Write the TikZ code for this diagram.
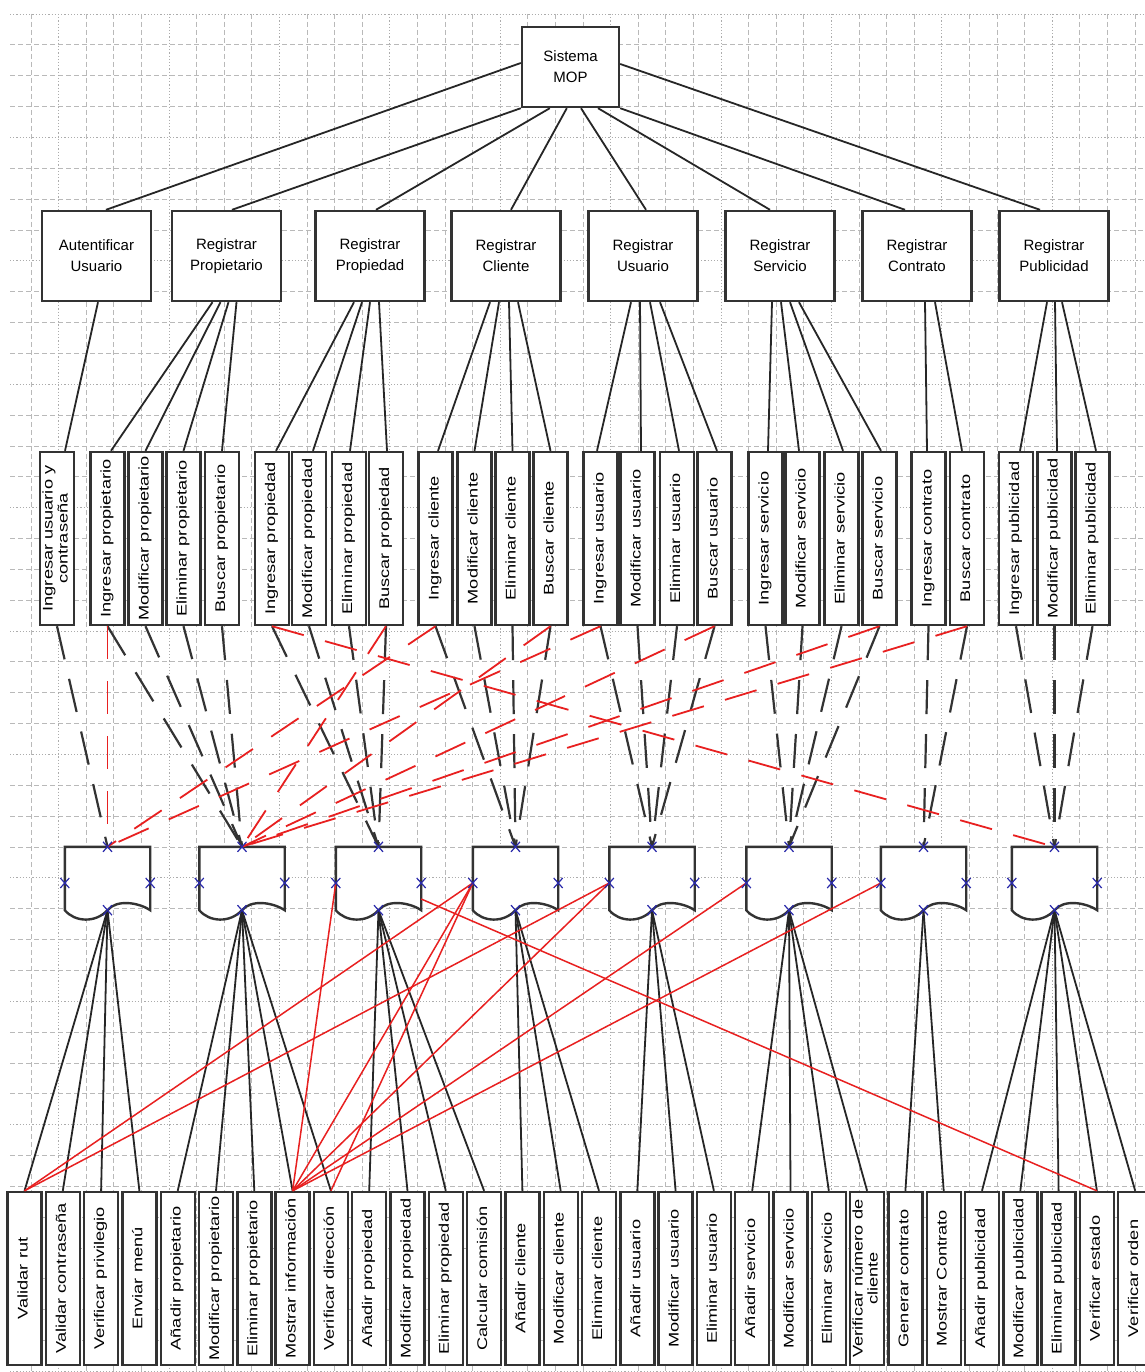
\documentclass[tikz,border=0pt]{standalone}
\usepackage{fontspec}
\usepackage{graphicx}
\setmainfont{Liberation Sans}
\newfontfamily\vfont[FakeStretch=1.3]{Liberation Sans}
\usetikzlibrary{calc}
\definecolor{rl}{RGB}{232,32,32}
\definecolor{mk}{RGB}{40,40,170}
\newcommand\vtxt[1]{\rotatebox{90}{\vfont\fontsize{14}{15}\selectfont\begin{tabular}{@{}c@{}}#1\end{tabular}}}
\newcommand\mkx[1]{\draw[mkline] ($(#1)+(-4.5,-5)$) -- ($(#1)+(4.5,5)$) ($(#1)+(-4.5,5)$) -- ($(#1)+(4.5,-5)$);}
\begin{document}
\begin{tikzpicture}[x=1pt,y=-1pt,
  hbox/.style={draw=black!80, line width=2.4pt, fill=white, align=center, inner sep=0pt, font=\fontsize{15}{21}\selectfont},
  vbox/.style={draw=black!80, line width=2.4pt, fill=white, minimum width=34pt, minimum height=173pt, inner sep=0pt},
  docn/.style={draw=none, minimum width=85pt, minimum height=72pt, inner sep=0pt},
  docline/.style={draw=black!80, line width=2.4pt, fill=white},
  tln/.style={draw=black!85, line width=1.8pt},
  bdash/.style={draw=black!80, line width=2.2pt, dash pattern=on 34pt off 20pt},
  rdash/.style={draw=rl, line width=1.8pt, dash pattern=on 33pt off 22pt},
  rsol/.style={draw=rl, line width=1.5pt},
  mkline/.style={draw=mk, line width=1.2pt},
  gdash/.style={draw=gray!55, line width=0.8pt, dash pattern=on 5pt off 3pt},
  gdot/.style={draw=gray!65, line width=0.8pt, dash pattern=on 1.2pt off 2pt}
]
\useasboundingbox (0,0) rectangle (1144,1372);
\fill[white] (0,0) rectangle (1144,1372);
% grid
\foreach \k in {0,...,44} {
  \pgfmathsetmacro\yy{14+30.85*\k}
  \pgfmathtruncatemacro\m{mod(\k,4)}
  \ifnum\m=0 \draw[gdot] (10,\yy) -- (1144,\yy); \else \draw[gdash] (10,\yy) -- (1144,\yy); \fi
}
\foreach \k in {0,...,40} {
  \pgfmathsetmacro\xx{31+27.6*\k}
  \pgfmathtruncatemacro\m{mod(\k,4)}
  \ifnum\m=1 \draw[gdot] (\xx,14) -- (\xx,1372); \else \draw[gdash] (\xx,14) -- (\xx,1372); \fi
}
% level 1 and 2
\node[hbox, minimum width=97pt, minimum height=80pt] (sys) at (570.5,67) {Sistema\\MOP};
\foreach \x/\n/\tx in {96.5/aut/{Autentificar\\Usuario}, 226.5/rpt/{Registrar\\Propietario}, 370/rpd/{Registrar\\Propiedad}, 506/rcl/{Registrar\\Cliente}, 643/rus/{Registrar\\Usuario}, 780/rse/{Registrar\\Servicio}, 917/rco/{Registrar\\Contrato}, 1054/rpu/{Registrar\\Publicidad}}
  \node[hbox, minimum width=109pt, minimum height=90pt] (\n) at (\x,256) {\tx};
% level 3
\foreach \x/\n/\tx in {57/q1/{Ingresar usuario y\\contraseña}, 107.5/q2/{Ingresar propietario}, 145.5/q3/{Modificar propietario}, 183.5/q4/{Eliminar propietario}, 222/q5/{Buscar propietario}, 272/q6/{Ingresar propiedad}, 309/q7/{Modificar propiedad}, 349/q8/{Eliminar propiedad}, 386/q9/{Buscar propiedad}, 435.5/q10/{Ingresar cliente}, 474.5/q11/{Modificar cliente}, 512.5/q12/{Eliminar cliente}, 550.5/q13/{Buscar cliente}, 600.5/q14/{Ingresar usuario}, 637.5/q15/{Modificar usuario}, 677/q16/{Eliminar usuario}, 714.5/q17/{Buscar usuario}, 765.5/q18/{Ingresar servicio}, 802.5/q19/{Modificar servicio}, 841.5/q20/{Eliminar servicio}, 879.5/q21/{Buscar servicio}, 928.5/q22/{Ingresar contrato}, 967/q23/{Buscar contrato}, 1016/q24/{Ingresar publicidad}, 1054.5/q25/{Modificar publicidad}, 1092.5/q26/{Eliminar publicidad}}
  \node[vbox] (\n) at (\x,538.5) {\vtxt{\tx}};
% level 5
\foreach \tx [count=\i] in {{Validar rut}, {Validar contraseña}, {Verificar privilegio}, {Enviar menú}, {Añadir propietario}, {Modificar propietario}, {Eliminar propietario}, {Mostrar información}, {Verificar dirección}, {Añadir propiedad}, {Modificar propiedad}, {Eliminar propiedad}, {Calcular comisión}, {Añadir cliente}, {Modificar cliente}, {Eliminar cliente}, {Añadir usuario}, {Modificar usuario}, {Eliminar usuario}, {Añadir servicio}, {Modificar servicio}, {Eliminar servicio}, {Verificar número de\\cliente}, {Generar contrato}, {Mostrar Contrato}, {Añadir publicidad}, {Modificar publicidad}, {Eliminar publicidad}, {Verificar estado}, {Verificar orden}}
  \node[vbox] (b\i) at ({24.5+(\i-1)*38.3},1278.5) {\vtxt{\tx}};
% level 4 documents
\foreach \x [count=\i] in {107.5,242,378.5,515.5,652,789,923.5,1054.5} {
  \node[docn] (d\i) at (\x,883) {};
  \coordinate (d\i-b) at ($(d\i.south)+(0,-9)$);
}
\foreach \i in {1,...,8}
  \filldraw[docline] (d\i.north west) -- ($(d\i.south west)+(0,-9)$) .. controls +(10,12) and +(-12,13) .. (d\i-b) .. controls +(9,-11) and +(-12,-8) .. ($(d\i.south east)+(0,-9)$) -- (d\i.north east) -- cycle;
% level 1 -> 2
\draw[tln] ([yshift=4pt]sys.west) -- ([xshift=9.5pt]aut.north);
\draw[tln] (sys.south west) -- ([xshift=5.5pt]rpt.north);
\draw[tln] ([xshift=29pt]sys.south west) -- ([xshift=6pt]rpd.north);
\draw[tln] ([xshift=46pt]sys.south west) -- ([xshift=5pt]rcl.north);
\draw[tln] ([xshift=10.5pt]sys.south) -- ([xshift=3pt]rus.north);
\draw[tln] ([xshift=27.5pt]sys.south) -- ([xshift=-10pt]rse.north);
\draw[tln] (sys.south east) -- ([xshift=-12pt]rco.north);
\draw[tln] ([yshift=3pt]sys.east) -- ([xshift=-14pt]rpu.north);
% level 2 -> 3
\foreach \s/\o/\t/\p in {aut/1.5/q1/8, rpt/-14/q2/3.5, rpt/-6/q3/0, rpt/2/q4/0, rpt/10/q5/0, rpd/-16/q6/4, rpd/-8/q7/4, rpd/0/q8/1, rpd/9/q9/1, rcl/-16/q10/2.5, rcl/-7/q11/0, rcl/3/q12/0, rcl/12/q13/0, rus/-12/q14/-3.5, rus/-3/q15/3.5, rus/7/q16/2, rus/17/q17/2.5, rse/-8/q18/2.5, rse/1/q19/-3.5, rse/10/q20/1.5, rse/19/q21/1.5, rco/8/q22/-1.5, rco/18/q23/-5, rpu/-7/q24/4, rpu/1/q25/2.5, rpu/8/q26/3.5}
  \draw[tln] ([xshift=\o pt]\s.south) -- ([xshift=\p pt]\t.north);
% level 3 -> 4 (black dashed)
\foreach \s/\t in {q1/d1, q2/d2, q3/d2, q4/d2, q5/d2, q6/d3, q7/d3, q8/d3, q9/d3, q10/d4, q11/d4, q12/d4, q13/d4, q14/d5, q15/d5, q16/d5, q17/d5, q18/d6, q19/d6, q20/d6, q21/d6, q22/d7, q23/d7, q24/d8, q25/d8, q26/d8}
  \draw[bdash] (\s.south) -- (\t.north);
% level 3 -> 4 (red dashed)
\foreach \s/\t in {q2/d1, q10/d1, q14/d1, q6/d8, q9/d2, q13/d2, q17/d2, q21/d2, q23/d2}
  \draw[rdash] (\s.south) -- (\t.north);
% level 4 -> 5 (black)
\foreach \s/\t in {d1/b1, d1/b2, d1/b3, d1/b4, d2/b5, d2/b6, d2/b7, d2/b8, d2/b9, d3/b10, d3/b11, d3/b12, d3/b13, d4/b14, d4/b15, d4/b16, d5/b17, d5/b18, d5/b19, d6/b20, d6/b21, d6/b22, d6/b23, d7/b24, d7/b25, d8/b26, d8/b27, d8/b28, d8/b29, d8/b30}
  \draw[tln] (\s-b) -- (\t.north);
% level 4 -> 5 (red)
\foreach \s/\t in {b1/d4, b1/d5, b8/d3, b8/d4, b8/d5, b8/d6, b8/d7, b9/d4}
  \draw[rsol] (\s.north) -- (\t.west);
\draw[rsol] ([yshift=-16pt]d3.east) -- (b29.north);
% markers
\foreach \i in {1,...,8} {
  \mkx{d\i.north}
  \mkx{d\i.west}
  \mkx{d\i.east}
  \mkx{d\i-b}
}
\end{tikzpicture}
\end{document}
